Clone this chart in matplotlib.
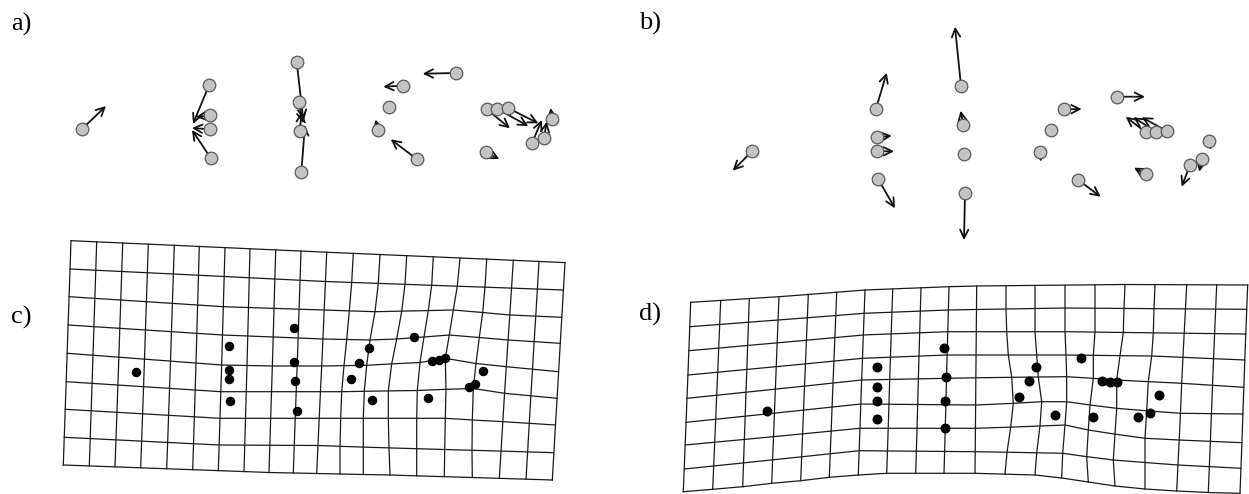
import numpy as np
import matplotlib
matplotlib.use("Agg")
import matplotlib.pyplot as plt

# ---------------- data (figure pixel units, y downward) ----------------
# panel a: consensus landmarks and vector tips
a_x = [81.7, 209.0, 210.0, 210.0, 210.7, 296.7, 298.7, 299.7, 301.3, 456.0, 403.3,
       389.0, 378.0, 416.7, 486.7, 497.3, 508.0, 552.3, 544.0, 532.0, 486.0]
a_y = [129.3, 85.3, 115.3, 129.3, 158.0, 62.0, 102.0, 131.3, 172.3, 73.0, 85.7,
       107.3, 130.0, 159.0, 109.3, 109.0, 108.0, 118.7, 138.0, 143.3, 152.3]
a_tip_x = [106.0, 193.0, 196.0, 192.0, 192.0, 303.3, 303.3, 301.7, 305.0, 422.7, 383.3,
           387.0, 375.5, 390.7, 510.0, 528.3, 538.3, 550.5, 546.7, 541.7, 499.3]
a_tip_y = [106.0, 124.0, 117.0, 128.0, 130.0, 120.0, 123.3, 111.7, 125.0, 73.7, 86.7,
           100.0, 119.5, 139.3, 128.3, 126.0, 123.3, 108.0, 121.7, 120.0, 159.0]

# panel b
b_x = [752.3, 876.0, 876.7, 877.3, 878.3, 961.0, 963.3, 964.0, 965.0, 1064.3, 1051.0,
       1040.0, 1078.3, 1116.7, 1145.7, 1156.0, 1166.7, 1209.3, 1201.7, 1190.0, 1145.7]
b_y = [151.0, 108.7, 137.3, 151.3, 179.3, 86.0, 125.0, 154.0, 193.0, 109.3, 130.0,
       151.7, 180.0, 96.7, 132.3, 131.7, 131.0, 140.7, 159.3, 165.0, 174.0]
b_tip_x = [732.7, 886.7, 891.7, 894.0, 895.0, 955.0, 960.7, 964.0, 964.0, 1081.7, 1051.0,
           1041.0, 1100.7, 1145.0, 1125.7, 1133.3, 1141.7, 1210.7, 1199.3, 1181.7, 1134.0]
b_tip_y = [170.7, 72.7, 135.7, 151.3, 208.3, 26.7, 110.7, 154.0, 240.0, 109.0, 130.0,
           161.7, 196.7, 96.7, 116.7, 117.3, 117.3, 150.0, 171.7, 186.7, 167.7]

# panel c / d: target landmarks
c_x = [136.3, 229.3, 229.3, 229.0, 229.7, 293.7, 294.0, 295.0, 296.7, 368.7, 359.0,
       351.3, 372.0, 414.0, 431.7, 439.0, 445.3, 483.0, 475.0, 469.3, 428.3]
c_y = [372.3, 346.0, 370.0, 379.3, 401.0, 328.3, 362.0, 381.0, 410.7, 348.3, 362.7,
       378.7, 400.3, 337.0, 361.0, 360.0, 358.3, 371.0, 384.3, 387.3, 398.3]
d_x = [767.0, 876.7, 876.7, 877.0, 876.7, 944.3, 945.7, 945.0, 945.3, 1036.3, 1029.0,
       1019.3, 1055.3, 1081.0, 1101.7, 1110.0, 1117.3, 1159.3, 1150.3, 1138.3, 1092.7]
d_y = [410.7, 367.0, 386.7, 400.7, 419.3, 348.3, 377.0, 401.0, 428.3, 367.0, 380.7,
       397.3, 415.0, 358.3, 380.7, 382.0, 382.3, 395.3, 413.3, 416.7, 417.3]

# deformation grid c: column x at top / bottom, bent columns, row y knots
c_top_x = [71.0, 96.7, 122.7, 148.3, 174.3, 199.3, 225.0, 250.0, 275.7, 301.0,
           326.7, 353.3, 380.0, 406.7, 433.3, 460.0, 486.7, 513.3, 539.0, 565.0]
c_bot_x = [63.3, 89.3, 115.0, 140.7, 166.7, 192.7, 218.3, 244.0, 269.0, 293.3,
           316.7, 340.0, 365.0, 389.3, 416.7, 444.3, 472.3, 499.3, 526.0, 552.3]
c_col_bent = {
    11: [353.3, 351.7, 349.3, 346.7, 344.0, 341.7, 340.7, 340.0, 340.0],
    12: [380.0, 378.3, 375.0, 370.0, 366.7, 364.3, 363.3, 363.3, 363.3],
    13: [406.7, 405.0, 401.7, 396.7, 391.7, 388.3, 388.3, 389.0, 390.0],
    14: [433.3, 431.7, 428.3, 424.0, 420.0, 417.3, 416.7, 416.7, 416.7],
    15: [460.0, 457.3, 453.3, 449.3, 445.3, 446.0, 445.3, 444.7, 444.3],
    16: [486.7, 485.0, 482.7, 479.3, 476.0, 473.3, 472.3, 472.0, 472.3],
}
c_row_i = [[0, 19], [0, 10, 19], [0, 6, 12, 15, 17, 19],
           [0, 6, 10, 12, 13, 14, 15, 17, 19],
           [0, 6, 8, 10, 12, 14, 15, 16, 17, 19],
           [0, 6, 11, 14, 15, 16, 17, 19], [0, 6, 12, 15, 19],
           [0, 6, 10, 19], [0, 8, 13, 19]]
c_row_y = [[240.7, 262.6], [269.0, 281.5, 290.0],
           [296.7, 306.7, 311.7, 310.0, 315.0, 317.3],
           [325.0, 335.0, 339.0, 340.0, 339.0, 337.0, 335.0, 340.0, 343.3],
           [353.3, 365.0, 366.0, 366.0, 365.3, 362.5, 358.3, 363.5, 366.7, 371.7],
           [381.7, 391.7, 391.7, 390.5, 389.3, 388.5, 393.3, 398.3],
           [409.3, 418.3, 418.3, 418.3, 425.0],
           [437.3, 445.0, 445.5, 452.7], [465.0, 472.5, 475.0, 480.0]]

# deformation grid d
d_top_x = [690.7, 720.7, 749.3, 779.0, 808.3, 836.7, 865.0, 892.7, 921.0, 949.0,
           976.7, 1006.0, 1035.0, 1065.0, 1095.0, 1125.0, 1155.0, 1186.7, 1216.7, 1247.7]
d_bot_x = [683.3, 712.7, 742.7, 771.7, 800.7, 829.3, 858.3, 886.7, 915.7, 944.0,
           975.0, 1005.0, 1035.0, 1061.7, 1088.3, 1115.0, 1145.0, 1176.7, 1208.3, 1240.0]
d_col_bent = {
    11: [1006.0, 1006.0, 1006.7, 1008.3, 1011.7, 1013.3, 1010.7, 1007.0, 1005.0],
    12: [1035.0, 1035.0, 1035.0, 1036.7, 1038.3, 1041.7, 1040.0, 1036.7, 1035.0],
    13: [1065.0, 1065.0, 1065.0, 1066.0, 1066.7, 1066.7, 1065.0, 1062.7, 1061.7],
    14: [1095.0, 1095.0, 1095.0, 1093.3, 1093.3, 1090.0, 1088.3, 1086.7, 1088.3],
    15: [1125.0, 1124.0, 1123.3, 1120.0, 1116.7, 1116.7, 1115.0, 1113.3, 1115.0],
    16: [1155.0, 1154.0, 1153.3, 1151.7, 1148.3, 1146.7, 1145.0, 1145.0, 1145.0],
}
d_row_i = [[0, 3, 6, 9, 10, 15, 19], [0, 6, 9, 13, 19], [0, 6, 9, 13, 19],
           [0, 6, 9, 13, 16, 19], [0, 6, 9, 11, 13, 15, 17, 19],
           [0, 6, 10, 12, 13, 15, 17, 19], [0, 6, 10, 12, 13, 14, 16, 17, 19],
           [0, 6, 10, 13, 15, 17, 19],
           [0, 1, 2, 3, 4, 5, 6, 7, 10, 12, 13, 14, 15, 16, 17, 18, 19]]
d_row_y = [[302.3, 296.7, 290.0, 286.7, 286.0, 284.5, 285.0],
           [326.7, 313.3, 310.0, 308.0, 309.3],
           [350.7, 335.0, 331.7, 331.7, 334.0],
           [375.0, 358.3, 355.0, 355.0, 356.0, 360.0],
           [398.3, 380.0, 378.3, 377.3, 376.7, 380.0, 383.3, 387.3],
           [422.3, 404.0, 405.0, 401.7, 401.7, 408.3, 413.3, 414.0],
           [445.0, 428.3, 428.3, 426.0, 425.0, 430.0, 438.3, 440.0, 442.7],
           [469.0, 450.7, 451.7, 453.3, 460.0, 465.0, 468.3],
           [491.7, 489.3, 486.7, 483.3, 480.7, 477.3, 475.0, 473.3, 473.3, 475.0,
            478.0, 482.0, 486.0, 489.0, 491.0, 492.5, 493.3]]

panel_labels = ["a)", "b)", "c)", "d)"]
label_x = [11, 639, 11, 639]
label_y = [31, 30, 324, 321]

# ---------------- drawing ----------------
W, H = 1249, 494
fig = plt.figure(figsize=(W / 100, H / 100), dpi=100)
ax = fig.add_axes([0, 0, 1, 1])
ax.set_xlim(0, W)
ax.set_ylim(H, 0)
ax.axis("off")


def draw_vectors(xs, ys, txs, tys):
    for x0, y0, x1, y1 in zip(xs, ys, txs, tys):
        if np.hypot(x1 - x0, y1 - y0) < 1.0:
            continue
        ax.annotate("", xy=(x1, y1), xytext=(x0, y0),
                    arrowprops=dict(arrowstyle="->", lw=1.3, color="#111111",
                                    shrinkA=0, shrinkB=0, mutation_scale=15),
                    zorder=2)
    ax.scatter(xs, ys, s=82, facecolor="#c3c3c3", edgecolor="#5a5a5a",
               linewidths=0.9, zorder=3)


def draw_grid(top_x, bot_x, bent, row_i, row_y):
    ncol = len(top_x)
    nrow = len(row_i)
    jj = np.arange(nrow)
    ii = np.arange(ncol)
    X = np.zeros((ncol, nrow))
    Y = np.zeros((ncol, nrow))
    for i in range(ncol):
        if i in bent:
            X[i] = bent[i]
        else:
            X[i] = np.interp(jj, [0, nrow - 1], [top_x[i], bot_x[i]])
    for j in range(nrow):
        Y[:, j] = np.interp(ii, row_i[j], row_y[j])
    for j in range(nrow):
        ax.plot(X[:, j], Y[:, j], color="#1a1a1a", lw=0.9, zorder=1)
    for i in range(ncol):
        ax.plot(X[i], Y[i], color="#1a1a1a", lw=0.9, zorder=1)


draw_vectors(a_x, a_y, a_tip_x, a_tip_y)
draw_vectors(b_x, b_y, b_tip_x, b_tip_y)

draw_grid(c_top_x, c_bot_x, c_col_bent, c_row_i, c_row_y)
ax.scatter(c_x, c_y, s=34, color="black", zorder=3)
draw_grid(d_top_x, d_bot_x, d_col_bent, d_row_i, d_row_y)
ax.scatter(d_x, d_y, s=38, color="black", zorder=3)

for lab, lx, ly in zip(panel_labels, label_x, label_y):
    ax.text(lx, ly, lab, fontsize=19, family="Liberation Serif",
            ha="left", va="baseline", color="black")

fig.savefig("out.png", dpi=100)
